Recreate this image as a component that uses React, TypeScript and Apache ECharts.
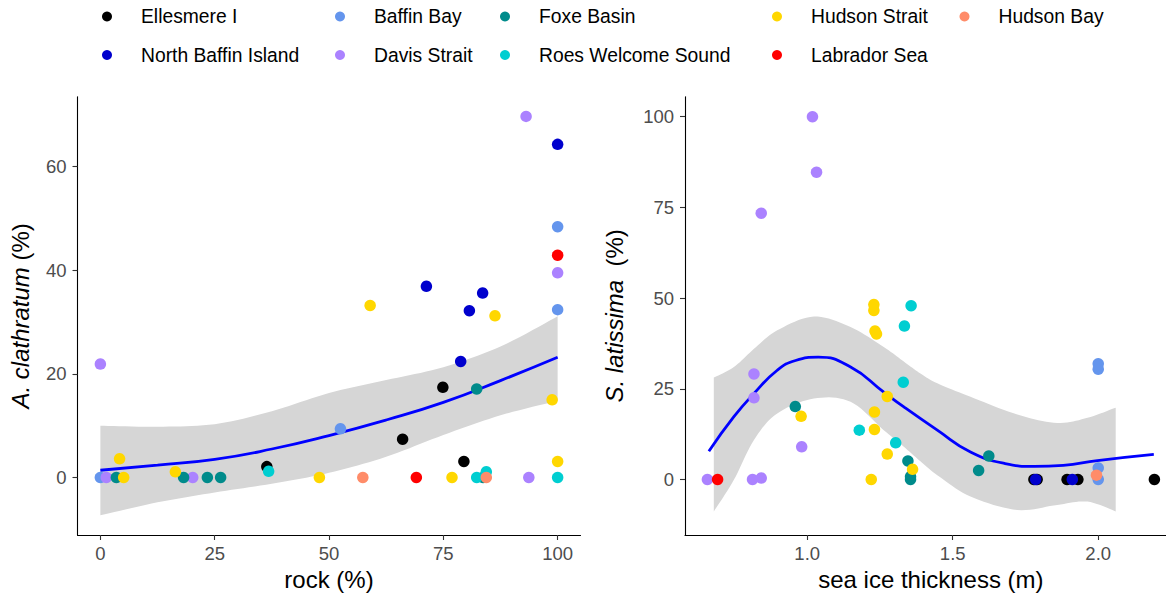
import React, { useEffect, useRef } from "react";
import * as echarts from "echarts";

// ---------- data ----------
const groups = [
  "Ellesmere I",
  "North Baffin Island",
  "Baffin Bay",
  "Davis Strait",
  "Foxe Basin",
  "Roes Welcome Sound",
  "Hudson Strait",
  "Labrador Sea",
  "Hudson Bay",
];
const groupColors = [
  "#000000",
  "#0000CD",
  "#6495ED",
  "#AB82FF",
  "#008B8B",
  "#00CED1",
  "#FFD700",
  "#FF0000",
  "#FF8C69",
];

// Left panel: rock (%) vs A. clathratum (%)
const rockEllesmere = [[36.4, 2.1], [74.9, 17.4], [66.1, 7.4], [79.5, 3.1]];
const rockNorthBaffin = [[100, 64.3], [71.3, 36.9], [83.6, 35.6], [80.7, 32.2], [78.8, 22.4]];
const rockBaffinBay = [[100, 48.4], [100, 32.4], [52.5, 9.4], [0, 0]];
const rockDavis = [[93.1, 69.7], [100, 39.5], [0, 21.9], [1.3, 0], [20.2, 0], [93.7, 0]];
const rockFoxe = [[82.3, 17.1], [83.7, 0], [3.5, 0], [18.2, 0], [23.4, 0], [26.3, 0]];
const rockRoes = [[36.8, 1.2], [82.3, 0], [84.4, 1.1], [100, 0]];
const rockHudsonStrait = [[59.0, 33.2], [86.3, 31.2], [98.8, 15.0], [100, 3.1], [47.9, 0], [76.9, 0], [4.2, 3.6], [16.4, 1.1], [5.1, 0]];
const rockLabrador = [[100, 42.9], [69.1, 0]];
const rockHudsonBay = [[57.4, 0], [84.4, 0]];

const rockFitX = [0, 12.5, 25, 37.5, 50, 62.5, 75, 87.5, 100];
const rockFitY = [1.4, 2.4, 3.5, 5.5, 8.1, 11.1, 14.5, 18.7, 23.2];
const rockFitHi = [10.0, 9.8, 10.3, 12.8, 16.3, 18.8, 21.3, 25.3, 31.1];
const rockFitLo = [-7.3, -4.8, -2.9, -1.2, 0.9, 4.0, 8.2, 12.0, 14.8];

// Right panel: sea ice thickness (m) vs S. latissima (%)
const iceEllesmere = [[1.779, 0], [1.79, 0], [1.893, 0], [1.930, 0], [2.193, 0]];
const iceNorthBaffin = [[1.785, 0], [1.911, 0]];
const iceBaffinBay = [[2.0, 31.9], [2.0, 30.4], [2.0, 3.2], [2.0, 0]];
const iceDavis = [[1.018, 100], [1.032, 84.7], [0.842, 73.4], [0.817, 29.1], [0.817, 22.5], [0.657, 0], [0.812, 0], [0.842, 0.4], [0.981, 9.0]];
const iceFoxe = [[0.959, 20.1], [1.346, 5.1], [1.355, 0.8], [1.355, 0], [1.624, 6.5], [1.589, 2.5]];
const iceRoes = [[1.357, 47.9], [1.334, 42.3], [1.330, 26.8], [1.304, 10.1], [1.179, 13.6]];
const iceHudsonStrait = [[1.229, 48.2], [1.229, 46.6], [1.233, 40.9], [1.238, 40.1], [1.275, 22.9], [1.231, 18.6], [1.231, 13.8], [1.275, 7.0], [1.362, 2.8], [1.220, 0], [0.979, 17.4]];
const iceLabrador = [[0.692, 0]];
const iceHudsonBay = [[1.994, 1.2]];

const iceFitX = [0.662, 0.748, 0.817, 0.897, 0.96, 1.038, 1.149, 1.263, 1.332, 1.447, 1.561, 1.68, 1.78, 1.88, 1.997, 2.191];
const iceFitY = [7.8, 17.3, 23.7, 30.1, 32.8, 33.7, 31.0, 24.1, 20.0, 13.6, 7.6, 4.4, 3.6, 3.9, 5.2, 6.9];
const iceRibX = [0.679, 0.748, 0.817, 0.897, 1.023, 1.149, 1.263, 1.332, 1.389, 1.447, 1.561, 1.722, 1.859, 1.963, 2.06];
const iceRibHi = [28.1, 31.0, 36.0, 41.1, 44.9, 42.0, 36.5, 32.5, 29.2, 26.5, 22.8, 17.9, 15.6, 17.0, 19.8];
const iceRibLo = [-8.8, -0.1, 10.9, 18.2, 22.3, 21.4, 13.6, 9.0, 5.0, 1.2, -4.7, -8.4, -7.0, -6.1, -8.8];

const rockData = [rockEllesmere, rockNorthBaffin, rockBaffinBay, rockDavis, rockFoxe, rockRoes, rockHudsonStrait, rockLabrador, rockHudsonBay];
const iceData = [iceEllesmere, iceNorthBaffin, iceBaffinBay, iceDavis, iceFoxe, iceRoes, iceHudsonStrait, iceLabrador, iceHudsonBay];

const rockTicks = [0, 25, 50, 75, 100];
const clathTicks = [0, 20, 40, 60];
const iceTicks = [1.0, 1.5, 2.0];
const latisTicks = [0, 25, 50, 75, 100];

const legendColumns = [
  ["Ellesmere I", "North Baffin Island"],
  ["Baffin Bay", "Davis Strait"],
  ["Foxe Basin", "Roes Welcome Sound"],
  ["Hudson Strait", "Labrador Sea"],
  ["Hudson Bay"],
];
const legendLefts = [102, 335, 500, 772, 959.5];

const FONT = "'Liberation Sans', Arial, sans-serif";

// Catmull-Rom smoothing of pixel points (visual smoothing only)
function smoothPts(p: number[][], steps = 10): number[][] {
  const out: number[][] = [];
  const n = p.length;
  for (let i = 0; i < n - 1; i++) {
    const p0 = p[Math.max(0, i - 1)];
    const p1 = p[i];
    const p2 = p[i + 1];
    const p3 = p[Math.min(n - 1, i + 2)];
    for (let s = 0; s < steps; s++) {
      const t = s / steps;
      const t2 = t * t;
      const t3 = t2 * t;
      const f = (a: number, b: number, c: number, d: number) =>
        0.5 * (2 * b + (-a + c) * t + (2 * a - 5 * b + 4 * c - d) * t2 + (-a + 3 * b - 3 * c + d) * t3);
      out.push([f(p0[0], p1[0], p2[0], p3[0]), f(p0[1], p1[1], p2[1], p3[1])]);
    }
  }
  out.push(p[n - 1]);
  return out;
}

function ribbonSeries(xs: number[], hi: number[], lo: number[], axisIdx: number) {
  return {
    type: "custom",
    xAxisIndex: axisIdx,
    yAxisIndex: axisIdx,
    silent: true,
    z: 1,
    data: [[xs[0], lo[0]]],
    renderItem: (_params: any, api: any) => {
      const up: number[][] = [];
      const dn: number[][] = [];
      for (let i = 0; i < xs.length; i++) {
        up.push(api.coord([xs[i], hi[i]]));
        dn.push(api.coord([xs[i], lo[i]]));
      }
      const pts = smoothPts(up).concat(smoothPts(dn).reverse());
      return {
        type: "polygon",
        shape: { points: pts },
        style: { fill: "#D6D6D6", stroke: "none" },
      };
    },
  };
}

function makeAxis(gridIndex: number, min: number, max: number, ticks: number[], name: string, nameGap: number, isX: boolean, fmt?: (v: number) => string) {
  return {
    type: "value",
    gridIndex,
    min,
    max,
    name,
    nameLocation: "middle",
    nameGap,
    nameTextStyle: {
      fontSize: 24,
      color: "#000",
      fontFamily: FONT,
      rich: {
        i: { fontSize: 24, fontStyle: "italic", color: "#000", fontFamily: FONT },
      },
    },
    splitLine: { show: false },
    axisLine: { show: true, onZero: false, lineStyle: { color: "#000", width: 1.1 } },
    axisTick: { show: true, length: 5, lineStyle: { color: "#333", width: 1.1 }, customValues: ticks },
    axisLabel: {
      show: true,
      color: "#4D4D4D",
      fontSize: 18.5,
      fontFamily: FONT,
      margin: isX ? 9 : 11,
      customValues: ticks,
      formatter: fmt ? fmt : (v: number) => String(v),
    },
  };
}

export default function App() {
  const ref = useRef<HTMLDivElement>(null);
  useEffect(() => {
    if (!ref.current) return;
    const chart = echarts.init(ref.current, null, { renderer: "svg" });

    const series: any[] = [];
    series.push(ribbonSeries(rockFitX, rockFitHi, rockFitLo, 0));
    series.push(ribbonSeries(iceRibX, iceRibHi, iceRibLo, 1));
    series.push({
      type: "line",
      name: "fitRock",
      xAxisIndex: 0,
      yAxisIndex: 0,
      data: rockFitX.map((x, i) => [x, rockFitY[i]]),
      smooth: true,
      showSymbol: false,
      silent: true,
      z: 2,
      lineStyle: { color: "#0000FF", width: 2.8 },
    });
    series.push({
      type: "line",
      name: "fitIce",
      xAxisIndex: 1,
      yAxisIndex: 1,
      data: iceFitX.map((x, i) => [x, iceFitY[i]]),
      smooth: true,
      showSymbol: false,
      silent: true,
      z: 2,
      lineStyle: { color: "#0000FF", width: 2.8 },
    });
    groups.forEach((g, gi) => {
      series.push({
        type: "scatter",
        name: g,
        xAxisIndex: 0,
        yAxisIndex: 0,
        data: rockData[gi],
        symbol: "circle",
        symbolSize: 11.5,
        z: 3,
        itemStyle: { color: groupColors[gi], opacity: 1 },
      });
      series.push({
        type: "scatter",
        name: g,
        xAxisIndex: 1,
        yAxisIndex: 1,
        data: iceData[gi],
        symbol: "circle",
        symbolSize: 11.5,
        z: 3,
        itemStyle: { color: groupColors[gi], opacity: 1 },
      });
    });

    chart.setOption({
      animation: false,
      backgroundColor: "#FFFFFF",
      textStyle: { fontFamily: FONT },
      legend: legendColumns.map((names, i) => ({
        orient: "vertical",
        left: legendLefts[i],
        top: 5,
        padding: 0,
        itemWidth: 10,
        itemHeight: 10,
        itemGap: 15.5,
        icon: "circle",
        selectedMode: false,
        data: names,
        textStyle: {
          fontSize: 19.3,
          color: "#000",
          fontFamily: FONT,
          lineHeight: 23,
          padding: [0, 0, 0, 24],
        },
      })),
      grid: [
        { left: 77.5, top: 96.7, width: 503, height: 438.3, containLabel: false, outerBoundsMode: "none" },
        { left: 685, top: 96.7, width: 491.8, height: 438.3, containLabel: false, outerBoundsMode: "none" },
      ],
      xAxis: [
        makeAxis(0, -5, 105, rockTicks, "rock (%)", 31, true),
        makeAxis(1, 0.58, 2.27, iceTicks, "sea ice thickness (m)", 31, true, (v: number) => v.toFixed(1)),
      ],
      yAxis: [
        makeAxis(0, -11.1, 73.5, clathTicks, "{i|A. clathratum} (%)", 45, false),
        makeAxis(1, -15.3, 105.5, latisTicks, "{i|S. latissima}  (%)", 59, false),
      ],
      series,
    });
    return () => chart.dispose();
  }, []);
  return (
    <div
      ref={ref}
      style={{ position: "absolute", left: 0, top: 0, width: 1166, height: 596 }}
    />
  );
}
